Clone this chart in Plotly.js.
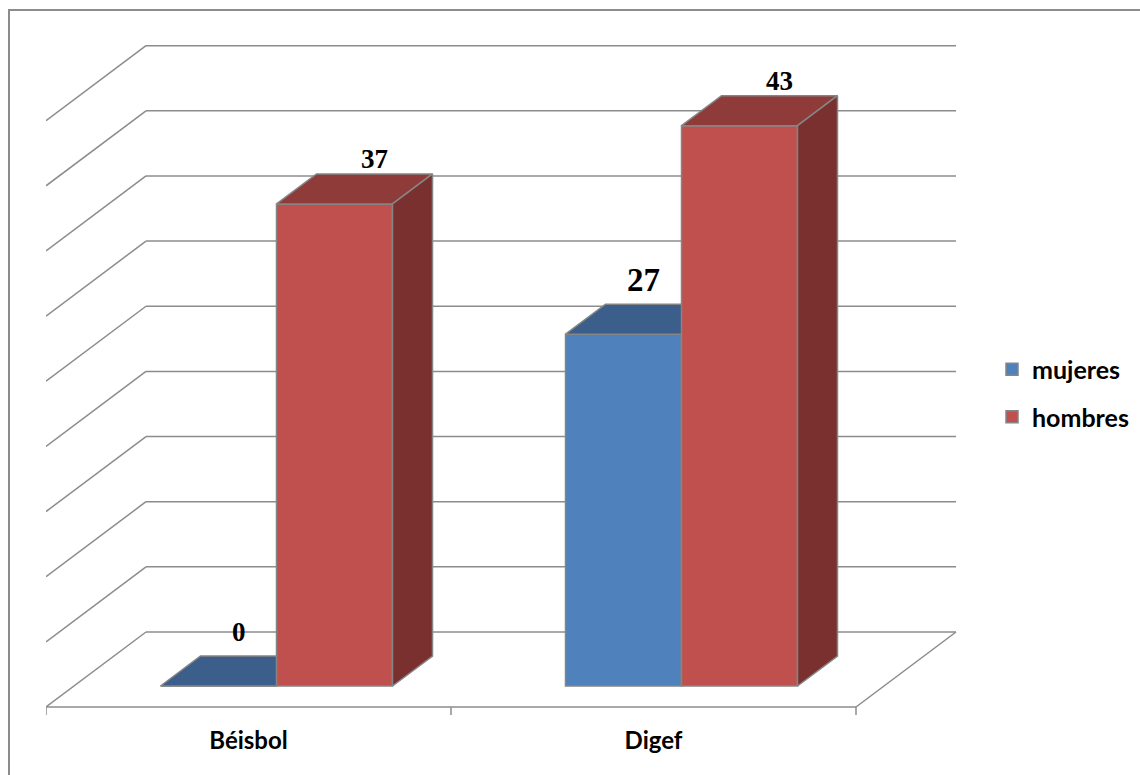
<!DOCTYPE html>
<html>
<head>
<meta charset="utf-8">
<script src="https://cdn.plot.ly/plotly-3.0.1.min.js"></script>
<style>
  html, body { margin: 0; padding: 0; background: #ffffff; }
  #chart { width: 1140px; height: 775px; }
</style>
</head>
<body>
<div id="chart"></div>
<script>
// ---------------- DATA ----------------
const categories = ['Béisbol', 'Digef'];
const mujeres = [0, 27];
const hombres = [37, 43];
const seriesNames = ['mujeres', 'hombres'];
const gridValues = [0, 5, 10, 15, 20, 25, 30, 35, 40, 45];

// ---------------- STYLE / GEOMETRY ----------------
const seriesValues = [mujeres, hombres];
const frontColors = ['#4F81BD', '#C0504D'];
const topColors = ['#3B5E8B', '#8E3B39'];
const sideColors = ['#34537C', '#79302E'];
const edgeColor = '#858585';
const gridColor = '#8c8c8c';
const labelSizes = [[27, 33], [27, 27]];   // per series, per category
const labelXShift = [-20, 0];
const labelYShift = [24, 15];

const W = 1140, H = 775;
const plotL = 46, plotR = 960, plotT = 40, plotB = 720;
const pxPerCat = 405, pxPerVal = 13.03, floorPx = 707;
const xRange = [-0.5, -0.5 + (plotR - plotL) / pxPerCat];
const yRange = [-(plotB - floorPx) / pxPerVal, (floorPx - plotT) / pxPerVal];
const DXu = 100 / pxPerCat;     // full depth, x units
const DYu = 75 / pxPerVal;      // full depth, y units
const barW = 116 / pxPerCat;
const zf = 0.28, zb = 0.68;     // bar front/back depth fractions
const dX = (zb - zf) * DXu, dY = (zb - zf) * DYu;

const traces = [];
const annotations = [];
seriesValues.forEach((vals, s) => {
  const xa = s === 0 ? 'x' : 'x2';
  const ya = s === 0 ? 'y' : 'y2';
  const sign = s === 0 ? -1 : 1;
  const centers = categories.map((c, i) => i + sign * barW / 2);
  // front faces
  traces.push({
    type: 'bar', name: seriesNames[s], xaxis: xa, yaxis: ya,
    x: centers.map(c => c + zf * DXu),
    y: vals,
    base: vals.map(() => zf * DYu),
    width: vals.map(() => barW),
    marker: { color: frontColors[s], line: { color: edgeColor, width: 1.5 } },
    legendgroup: seriesNames[s],
    hoverinfo: 'skip'
  });
  // top faces & side faces
  const tx = [], ty = [], sx = [], sy = [];
  vals.forEach((v, i) => {
    const xl = centers[i] - barW / 2 + zf * DXu;
    const xr = xl + barW;
    const yb = zf * DYu;
    const yt = v + yb;
    tx.push(xl, xr, xr + dX, xl + dX, xl, null);
    ty.push(yt, yt, yt + dY, yt + dY, yt, null);
    sx.push(xr, xr, xr + dX, xr + dX, xr, null);
    sy.push(yb, yt, yt + dY, yb + dY, yb, null);
    annotations.push({
      xref: xa, yref: ya,
      x: centers[i] + zb * DXu, y: v + zb * DYu,
      text: String(v), showarrow: false,
      xanchor: 'center', yanchor: 'middle',
      xshift: labelXShift[s], yshift: labelYShift[s],
      font: { family: 'Liberation Serif', size: labelSizes[s][i], color: '#000', weight: 'bold' }
    });
  });
  traces.push({
    type: 'scatter', mode: 'lines', xaxis: xa, yaxis: ya, x: tx, y: ty,
    fill: 'toself', fillcolor: topColors[s],
    line: { color: edgeColor, width: 1.5 }, showlegend: false, hoverinfo: 'skip'
  });
  traces.push({
    type: 'scatter', mode: 'lines', xaxis: xa, yaxis: ya, x: sx, y: sy,
    fill: 'toself', fillcolor: sideColors[s],
    line: { color: edgeColor, width: 1.5 }, showlegend: false, hoverinfo: 'skip'
  });
});

// walls, floor, ticks
const shapes = [];
const xFront0 = -0.5, xFront1 = categories.length - 0.5;
const ln = (x0, y0, x1, y1, w) => ({
  type: 'line', xref: 'x', yref: 'y', x0, y0, x1, y1, layer: 'below',
  line: { color: gridColor, width: w || 1.5 }
});
gridValues.forEach(g => {
  shapes.push(ln(xFront0 + DXu, g + DYu, xFront1 + DXu, g + DYu));
  shapes.push(ln(xFront0, g, xFront0 + DXu, g + DYu));
});
shapes.push(ln(xFront0, 0, xFront1, 0));
shapes.push(ln(xFront1, 0, xFront1 + DXu, DYu));
for (let k = 0; k <= categories.length; k++) {
  shapes.push(ln(xFront0 + k, 0, xFront0 + k, -8 / pxPerVal));
}
// outer chart border (top & left visible)
const pw = plotR - plotL, ph = plotB - plotT;
shapes.push({
  type: 'rect', xref: 'paper', yref: 'paper',
  x0: (9 - plotL) / pw, x1: (W + 30 - plotL) / pw,
  y0: (plotB - (H + 30)) / ph, y1: (plotB - 10) / ph,
  line: { color: '#8c8c8c', width: 2 }, fillcolor: 'rgba(0,0,0,0)', layer: 'below'
});

const layout = {
  width: W, height: H,
  margin: { l: plotL, r: W - plotR, t: plotT, b: H - plotB, pad: 0, autoexpand: false },
  paper_bgcolor: '#ffffff', plot_bgcolor: 'rgba(0,0,0,0)',
  barmode: 'overlay',
  showlegend: true,
  hovermode: false,
  xaxis: {
    range: xRange, fixedrange: true, showgrid: false, zeroline: false, showline: false,
    automargin: false,
    tickvals: categories.map((c, i) => i), ticktext: categories, ticks: '',
    ticklabelstandoff: 4,
    tickfont: { family: 'Lato', size: 24, color: '#000', weight: 'bold' }
  },
  yaxis: { range: yRange, fixedrange: true, visible: false, showgrid: false, zeroline: false },
  xaxis2: { range: xRange, overlaying: 'x', visible: false, fixedrange: true },
  yaxis2: { range: yRange, overlaying: 'y', visible: false, fixedrange: true },
  legend: {
    x: (992 - plotL) / pw, xanchor: 'left',
    y: (plotB - 393) / ph, yanchor: 'middle',
    traceorder: 'grouped', tracegroupgap: 12,
    font: { family: 'Lato', size: 25, color: '#000', weight: 'bold' },
    bgcolor: 'rgba(0,0,0,0)'
  },
  shapes: shapes,
  annotations: annotations
};

Plotly.newPlot('chart', traces, layout, { staticPlot: true, displayModeBar: false });
</script>
</body>
</html>
